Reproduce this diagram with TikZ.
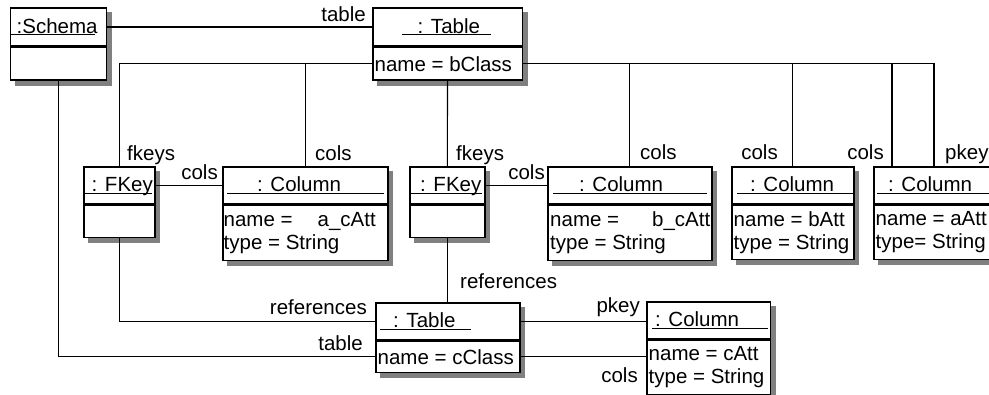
\documentclass[tikz,border=0pt]{standalone}
\usepackage{fontspec}
\setmainfont{Liberation Sans}

% souligné de largeur fixe pour les noms d'objets
\newcommand{\objlabel}[3]{\underline{\makebox[#1][l]{\hspace*{#2}\smash{#3}\vphantom{C}}}}

\begin{document}
\begin{tikzpicture}[x=1pt, y=-1pt]

    \useasboundingbox (0,0) rectangle (989,394);
    \fontsize{20.5}{23.3}\selectfont

    % --- Styles ---
    \tikzstyle{objbox} = [draw, fill=white, line width=1.6pt, inner sep=0pt, anchor=north west]
    \tikzstyle{objtitle} = [inner sep=0pt, anchor=west]
    \tikzstyle{attrs} = [inner sep=0pt, anchor=west, align=left]
    \tikzstyle{link} = [line width=1.1pt]
    \tikzstyle{role} = [inner sep=0pt]

    % --- Ligne du haut ---
    \node[objbox, minimum width=96pt, minimum height=37.6pt] (schema-h) at (9.5,7.4) {};
    \node[objbox, minimum width=96pt, minimum height=32.8pt] (schema-b) at (schema-h.south west) {};
    \node[objtitle] (schema-t) at ([xshift=1.5pt]schema-h.west) {\objlabel{84pt}{5.5pt}{:Schema}};

    \node[objbox, minimum width=149.5pt, minimum height=37.6pt] (tabB-h) at (372,7.4) {};
    \node[objbox, minimum width=149.5pt, minimum height=32.8pt] (tabB-b) at (tabB-h.south west) {};
    \node[objtitle] (tabB-t) at ([xshift=30pt]tabB-h.west) {\objlabel{89pt}{15.5pt}{: Table}};
    \node[attrs] (tabB-a) at ([xshift=2.5pt]tabB-b.west) {name = bClass};

    % --- Ligne du milieu ---
    \node[objbox, minimum width=71pt, minimum height=37pt] (fkA-h) at (83,166) {};
    \node[objbox, minimum width=71pt, minimum height=32pt] (fkA-b) at (fkA-h.south west) {};
    \node[objtitle] (fkA-t) at ([xshift=0.5pt]fkA-h.west) {\objlabel{68pt}{8pt}{: FKey}};

    \node[objbox, minimum width=165pt, minimum height=37pt] (colA-h) at (222,166) {};
    \node[objbox, minimum width=165pt, minimum height=55pt] (colA-b) at (colA-h.south west) {};
    \node[objtitle] (colA-t) at ([xshift=5pt]colA-h.west) {\objlabel{157pt}{30pt}{: Column}};
    \node[attrs] (colA-a) at ([xshift=1.5pt]colA-b.west) {name =\hspace{25pt}a\_cAtt\\type = String};

    \node[objbox, minimum width=75pt, minimum height=37pt] (fkB-h) at (409,166) {};
    \node[objbox, minimum width=75pt, minimum height=32pt] (fkB-b) at (fkB-h.south west) {};
    \node[objtitle] (fkB-t) at ([xshift=1pt]fkB-h.west) {\objlabel{72pt}{10pt}{: FKey}};

    \node[objbox, minimum width=164pt, minimum height=37pt] (colB-h) at (547,166) {};
    \node[objbox, minimum width=164pt, minimum height=55pt] (colB-b) at (colB-h.south west) {};
    \node[objtitle] (colB-t) at ([xshift=6pt]colB-h.west) {\objlabel{154pt}{26pt}{: Column}};
    \node[attrs] (colB-a) at ([xshift=3pt]colB-b.west) {name =\hspace{33pt}b\_cAtt\\type = String};

    \node[objbox, minimum width=122pt, minimum height=37pt] (colC-h) at (731,166) {};
    \node[objbox, minimum width=122pt, minimum height=54pt] (colC-b) at (colC-h.south west) {};
    \node[objtitle] (colC-t) at ([xshift=6pt]colC-h.west) {\objlabel{116pt}{13pt}{: Column}};
    \node[attrs] (colC-a) at ([xshift=2.5pt]colC-b.west) {name = bAtt\\type = String};

    \node[objbox, minimum width=124pt, minimum height=37pt] (colD-h) at (873,166) {};
    \node[objbox, minimum width=124pt, minimum height=54pt] (colD-b) at (colD-h.south west) {};
    \node[objtitle] (colD-t) at ([xshift=4pt]colD-h.west) {\objlabel{120pt}{11pt}{: Column}};
    \node[attrs] (colD-a) at ([xshift=2.5pt]colD-b.west) {name = aAtt\\type= String};

    % --- Ligne du bas ---
    \node[objbox, minimum width=144pt, minimum height=37pt] (tabC-h) at (375,302) {};
    \node[objbox, minimum width=144pt, minimum height=31pt] (tabC-b) at (tabC-h.south west) {};
    \node[objtitle] (tabC-t) at ([xshift=5pt]tabC-h.west) {\objlabel{91pt}{13pt}{: Table}};
    \node[attrs] (tabC-a) at ([xshift=2.5pt]tabC-b.west) {name = cClass};

    \node[objbox, minimum width=123.5pt, minimum height=37pt] (colE-h) at (646,301) {};
    \node[objbox, minimum width=123.5pt, minimum height=54pt] (colE-b) at (colE-h.south west) {};
    \node[objtitle] (colE-t) at ([xshift=6pt]colE-h.west) {\objlabel{116pt}{3pt}{: Column}};
    \node[attrs] (colE-a) at ([xshift=2.5pt]colE-b.west) {name = cAtt\\type = String};

    % --- Ombres : bande en L (gauche/haut/droite/bas de chaque objet) ---
    \foreach \xa/\ya/\xb/\yb in {9.5/7.4/107.1/81, 372/7.4/523.1/81,
                                 83/166/155.6/238.2, 222/166/388.6/261.2, 409/166/485.6/238.2,
                                 547/166/712.6/261.2, 731/166/854.6/260.2, 873/166/998.6/260.2,
                                 375/302/520.6/373.2, 646/301/771.1/395.2}
        \draw[draw=black!50, line width=4.5pt] (\xb+2.25,\ya+5) -- (\xb+2.25,\yb+2.25) -- (\xa+5,\yb+2.25);

    % --- Liens ---
    \coordinate (colsD) at ([xshift=19pt]colD-h.north west);
    \coordinate (pkeyD) at ([xshift=61pt]colD-h.north west);

    \draw[link] (schema-h.east) -- (tabB-h.west);
    \draw[link] (tabB-b.west) -| (fkA-h.north);
    \draw[link] (colA-h.north) -- (colA-h.north |- tabB-b.west);
    \draw[link] (tabB-b.east) -| (pkeyD);
    \draw[link] (colB-h.north) -- (colB-h.north |- tabB-b.east);
    \draw[link] (colC-h.north) -- (colC-h.north |- tabB-b.east);
    \draw[link] (colsD) -- (colsD |- tabB-b.east);
    \draw[link] (tabB-b.south) -- (fkB-h.north);
    \draw[link] (fkA-h.east) -- (colA-h.west);
    \draw[link] (fkB-h.east) -- (colB-h.west);
    \draw[link] (fkA-b.south) |- (tabC-h.west);
    \draw[link] (schema-b.south) |- (tabC-b.west);
    \draw[link] (fkB-b.south) -- (fkB-b.south |- tabC-h.north);
    \draw[link] (tabC-h.east) -- (tabC-h.east -| colE-h.west);
    \draw[link] (tabC-b.east) -- (tabC-b.east -| colE-b.west);

    % --- Rôles ---
    \node[role, anchor=base east] (r-table1) at (366,21) {table};
    \node[role, anchor=base west] (r-fkeysA) at (127,160) {fkeys};
    \node[role, anchor=base west] (r-colsA) at (315,160) {cols};
    \node[role, anchor=base east] (r-colsFA) at (218,179.5) {cols};
    \node[role, anchor=base west] (r-fkeysB) at (456,160) {fkeys};
    \node[role, anchor=base east] (r-colsFB) at (545,179.5) {cols};
    \node[role, anchor=base west] (r-colsB) at (640,159.5) {cols};
    \node[role, anchor=base east] (r-colsC) at (778,159.5) {cols};
    \node[role, anchor=base east] (r-colsD) at (884,159.5) {cols};
    \node[role, anchor=base west] (r-pkeyD) at (945,159.5) {pkey};
    \node[role, anchor=base west] (r-refB) at (460,288.5) {references};
    \node[role, anchor=base east] (r-refA) at (367,314) {references};
    \node[role, anchor=base east] (r-table2) at (363,350.5) {table};
    \node[role, anchor=base east] (r-pkeyE) at (640,312.5) {pkey};
    \node[role, anchor=base east] (r-colsE) at (638,382.5) {cols};

\end{tikzpicture}
\end{document}
